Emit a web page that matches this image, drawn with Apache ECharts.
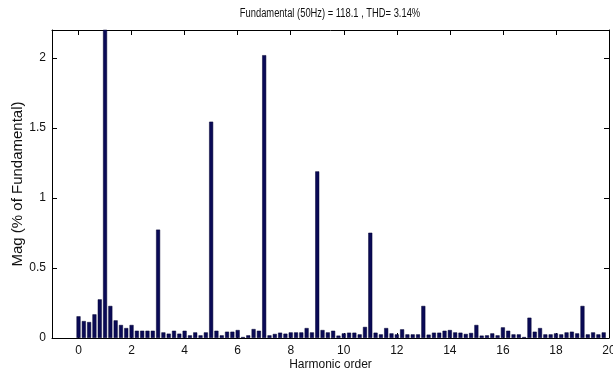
<!DOCTYPE html>
<html><head><meta charset="utf-8">
<script src="https://cdn.jsdelivr.net/npm/echarts@6/dist/echarts.min.js"></script>
<style>html,body{margin:0;padding:0;background:#fff}#c{width:613px;height:372px}</style>
</head><body><div id="c"></div>
<script>
const titleText = 'Fundamental (50Hz) = 118.1 , THD= 3.14%';
const xName = 'Harmonic order';
const yName = 'Mag (% of Fundamental)';
const xTicks = [0, 2, 4, 6, 8, 10, 12, 14, 16, 18, 20];
const harmonicOrder = [
  0.0,0.2,0.4,0.6,0.8,1.0,1.2,1.4,1.6,1.8,
  2.0,2.2,2.4,2.6,2.8,3.0,3.2,3.4,3.6,3.8,
  4.0,4.2,4.4,4.6,4.8,5.0,5.2,5.4,5.6,5.8,
  6.0,6.2,6.4,6.6,6.8,7.0,7.2,7.4,7.6,7.8,
  8.0,8.2,8.4,8.6,8.8,9.0,9.2,9.4,9.6,9.8,
  10.0,10.2,10.4,10.6,10.8,11.0,11.2,11.4,11.6,11.8,
  12.0,12.2,12.4,12.6,12.8,13.0,13.2,13.4,13.6,13.8,
  14.0,14.2,14.4,14.6,14.8,15.0,15.2,15.4,15.6,15.8,
  16.0,16.2,16.4,16.6,16.8,17.0,17.2,17.4,17.6,17.8,
  18.0,18.2,18.4,18.6,18.8,19.0,19.2,19.4,19.6,19.8
];
const magnitude = [
  0.155,0.121,0.114,0.169,0.276,100,0.229,0.126,0.093,0.071,
  0.093,0.052,0.052,0.052,0.052,0.774,0.040,0.031,0.052,0.031,
  0.052,0.019,0.040,0.019,0.040,1.545,0.052,0.019,0.045,0.045,
  0.057,0.007,0.019,0.064,0.052,2.020,0.019,0.029,0.038,0.031,
  0.040,0.040,0.040,0.071,0.040,1.190,0.057,0.040,0.052,0.017,
  0.033,0.038,0.038,0.026,0.079,0.752,0.038,0.026,0.071,0.033,
  0.026,0.062,0.026,0.026,0.026,0.229,0.024,0.038,0.038,0.052,
  0.057,0.040,0.038,0.029,0.036,0.093,0.017,0.019,0.033,0.019,
  0.076,0.052,0.026,0.026,0.007,0.145,0.045,0.071,0.026,0.026,
  0.033,0.026,0.040,0.045,0.033,0.229,0.026,0.040,0.026,0.040
];

const font = 'Liberation Sans, Arial, sans-serif';
const chart = echarts.init(document.getElementById('c'), null, {renderer: 'canvas'});
const lineStyle = {color: '#000', width: 1};
const baseX = {
  type: 'value', min: -1, max: 20,
  splitLine: {show: false},
  axisLine: {show: true, onZero: false, lineStyle},
  axisTick: {show: true, inside: true, length: 5, lineStyle, customValues: xTicks},
};
const baseY = {
  type: 'value', min: 0, max: 2.2, interval: 0.5,
  splitLine: {show: false},
  axisLine: {show: true, onZero: false, lineStyle},
  axisTick: {show: true, inside: true, length: 5, lineStyle},
};
chart.setOption({
  animation: false,
  backgroundColor: '#fff',
  graphic: [{
    type: 'text', x: 330, y: 14, scaleX: 0.78, silent: true,
    style: {text: titleText, fontFamily: font, fontSize: 12, fill: '#111',
      align: 'center', verticalAlign: 'middle'}
  }],
  grid: {left: 52, right: 4, top: 30, bottom: 34, containLabel: false, outerBoundsMode: 'none'},
  xAxis: [
    Object.assign({}, baseX, {
      position: 'bottom',
      name: xName, nameLocation: 'middle', nameGap: 21, nameMoveOverlap: false,
      nameTextStyle: {fontFamily: font, fontSize: 12, color: '#111'},
      axisLabel: {show: true, customValues: xTicks, margin: 7,
        fontFamily: font, fontSize: 12, color: '#111'}
    }),
    Object.assign({}, baseX, {position: 'top', axisLabel: {show: false, customValues: xTicks}})
  ],
  yAxis: [
    Object.assign({}, baseY, {
      position: 'left',
      name: yName, nameLocation: 'middle', nameGap: 27, nameRotate: 90, nameMoveOverlap: false,
      nameTextStyle: {fontFamily: font, fontSize: 15, color: '#111'},
      axisLabel: {show: true, margin: 6, fontFamily: font, fontSize: 12, color: '#111',
        showMaxLabel: false, formatter: v => String(v)}
    }),
    Object.assign({}, baseY, {position: 'right', axisLabel: {show: false}})
  ],
  series: [{
    type: 'bar',
    xAxisIndex: 0, yAxisIndex: 0,
    data: harmonicOrder.map((x, i) => [x, magnitude[i]]),
    barWidth: 4,
    clip: true,
    itemStyle: {color: '#0a0a56', borderColor: '#000030', borderWidth: 0.5}
  }]
});
</script></body></html>
